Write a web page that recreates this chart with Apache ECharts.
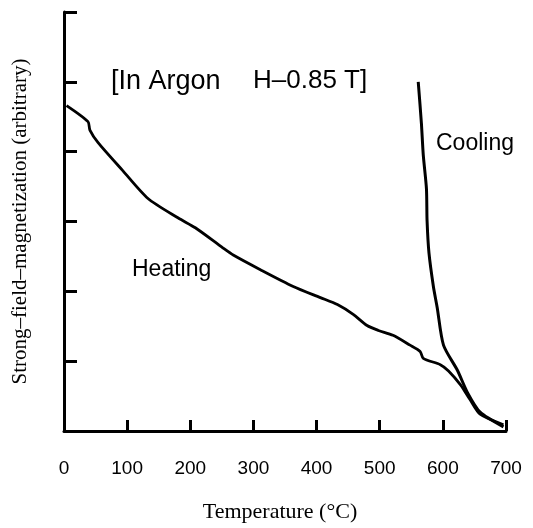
<!DOCTYPE html>
<html>
<head>
<meta charset="utf-8">
<script src="https://cdn.jsdelivr.net/npm/echarts@6/dist/echarts.min.js"></script>
<style>
html,body{margin:0;padding:0;background:#fff;}
#chart{width:533px;height:528px;}
</style>
</head>
<body>
<div id="chart"></div>
<script>
// Temperature ticks (°C)
const xTicks = [0, 100, 200, 300, 400, 500, 600, 700];
// Heating curve: [temperature, magnetization (arbitrary)]
const heatingTemp = [4, 38, 41, 54, 92, 133, 181, 208, 252, 268, 311, 363, 406, 433, 458, 480, 498, 521, 548, 564, 569, 596, 609, 628, 643, 659, 696];
const heatingMag  = [4.66, 4.43, 4.31, 4.13, 3.74, 3.33, 3.05, 2.91, 2.62, 2.52, 2.31, 2.07, 1.91, 1.81, 1.67, 1.51, 1.44, 1.37, 1.23, 1.14, 1.04, 0.95, 0.86, 0.66, 0.45, 0.24, 0.09];
// Cooling curve
const coolingTemp = [561, 566, 569, 574, 575, 578, 585, 591, 601, 623, 639, 659, 696];
const coolingMag  = [5.00, 4.41, 3.95, 3.47, 3.01, 2.55, 2.07, 1.77, 1.23, 0.87, 0.55, 0.27, 0.06];

const chart = echarts.init(document.getElementById('chart'), null, {renderer: 'canvas'});
const serif = '"Liberation Serif", "DejaVu Serif", serif';
const sans = '"Liberation Sans", Arial, sans-serif';

chart.setOption({
  backgroundColor: '#fff',
  animation: false,
  grid: {left: 64, right: 27, top: 12, bottom: 89},
  xAxis: {
    type: 'value', min: 0, max: 700, interval: 100,
    name: 'Temperature (°C)', nameLocation: 'middle', nameGap: 70,
    nameTextStyle: {fontFamily: serif, fontSize: 22, color: '#000', padding: [0, 10, 0, 0]},
    axisLine: {show: true, lineStyle: {color: '#000', width: 3}},
    axisTick: {show: true, inside: true, length: 11, lineStyle: {color: '#000', width: 3}},
    axisLabel: {margin: 28, fontFamily: sans, fontSize: 19, color: '#000',
      formatter: v => xTicks.includes(v) ? String(v) : ''},
    splitLine: {show: false}
  },
  yAxis: {
    type: 'value', min: 0, max: 6, interval: 1,
    name: 'Strong–field–magnetization (arbitrary)', nameLocation: 'middle', nameGap: 33, nameRotate: 90,
    nameTextStyle: {fontFamily: serif, fontSize: 21, color: '#000'},
    axisLine: {show: true, lineStyle: {color: '#000', width: 3}},
    axisTick: {show: true, inside: true, length: 13, lineStyle: {color: '#000', width: 3}},
    axisLabel: {show: false},
    splitLine: {show: false}
  },
  series: [
    {type: 'line', name: 'Heating', data: heatingTemp.map((t, i) => [t, heatingMag[i]]),
     showSymbol: false, smooth: 0.25, lineStyle: {color: '#000', width: 2.8}},
    {type: 'line', name: 'Cooling', data: coolingTemp.map((t, i) => [t, coolingMag[i]]),
     showSymbol: false, smooth: 0.25, lineStyle: {color: '#000', width: 3}}
  ],
  graphic: [
    {type: 'text', left: 111, top: 68, style: {text: '[In Argon', font: '27px ' + sans, fill: '#000'}},
    {type: 'text', left: 253, top: 68, style: {text: 'H–0.85 T]', font: '26px ' + sans, fill: '#000'}},
    {type: 'text', left: 132, top: 258, style: {text: 'Heating', font: '23px ' + sans, fill: '#000'}},
    {type: 'text', left: 436, top: 132, style: {text: 'Cooling', font: '23px ' + sans, fill: '#000'}}
  ]
});
</script>
</body>
</html>
